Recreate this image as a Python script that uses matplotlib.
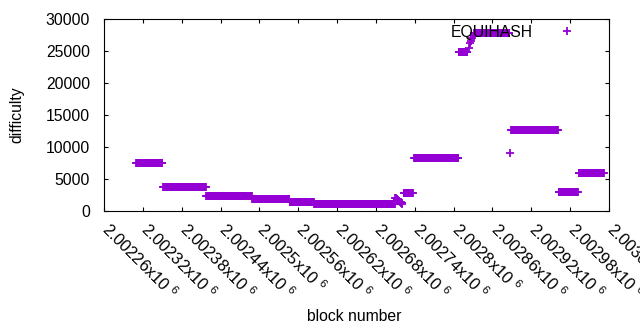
import numpy as np
import matplotlib
matplotlib.use("Agg")
import matplotlib.pyplot as plt
from matplotlib.transforms import ScaledTranslation

plt.rcParams['font.family'] = ['Liberation Sans', 'DejaVu Sans']
plt.rcParams['mathtext.default'] = 'regular'

# flat stretches of difficulty: first block, last block, level
seg_start = [2002310, 2002351, 2002418, 2002489, 2002547, 2002585, 2002661,
             2002723, 2002739, 2002808, 2002832, 2002889, 2002962, 2002993]
seg_end = [2002350, 2002417, 2002488, 2002546, 2002584, 2002660, 2002709,
           2002737, 2002807, 2002821, 2002886, 2002961, 2002992, 2003032]
seg_level = [7450, 3700, 2420, 1800, 1450, 1170, 1020,
             2740, 8230, 24800, 27750, 12730, 2920, 5890]

# single blocks between the flat stretches
pt_block = [2002710, 2002711, 2002712, 2002713, 2002714, 2002715, 2002716,
            2002717, 2002718, 2002719, 2002720, 2002721,
            2002823, 2002825, 2002827, 2002829, 2002831,
            2002887]
pt_value = [2100, 2000, 1900, 1820, 1730, 1640, 1550,
            1460, 1380, 1290, 1200, 1120,
            25400, 26200, 26600, 27000, 27350,
            9000]

xticks = np.arange(2002260, 2003041, 60)
xlabels = ['%gx10 $^{6}$' % (t / 1e6) for t in xticks]

blocks = [np.arange(s, e + 1) for s, e in zip(seg_start, seg_end)]
values = [np.full(len(b), v) for b, v in zip(blocks, seg_level)]
x = np.concatenate(blocks + [np.array(pt_block)])
y = np.concatenate(values + [np.array(pt_value)])
order = np.argsort(x, kind='stable')

fig = plt.figure(figsize=(6.4, 3.3), dpi=100)
ax = fig.add_axes([104 / 640, 1 - 211 / 330, 505 / 640, 192 / 330])

ax.plot(x[order], y[order], linestyle='none', marker='+', color='#9400d3',
        markersize=6, markeredgewidth=1.3, label='EQUIHASH')

ax.set_xlim(2002260, 2003040)
ax.set_ylim(0, 30000)
ax.set_yticks(np.arange(0, 30001, 5000))
ax.set_xticks(xticks)
ax.set_xticklabels(xlabels)

fs = 11.3
ax.tick_params(direction='in', top=True, right=True, length=3, width=0.8,
               labelsize=fs)
ax.tick_params(axis='y', pad=10)
ax.tick_params(axis='x', pad=0, labelsize=11.8)
# rotated labels hang from the tick, like gnuplot's "rotate by -45"
shift = ScaledTranslation(-0.035, -0.20, fig.dpi_scale_trans)
for lab in ax.get_xticklabels():
    lab.set_rotation(-45)
    lab.set_ha('left')
    lab.set_va('baseline')
    lab.set_rotation_mode('anchor')
    lab.set_transform(lab.get_transform() + shift)
for sp in ax.spines.values():
    sp.set_linewidth(0.8)

ax.set_xlabel('block number', fontsize=fs)
ax.set_ylabel('difficulty', fontsize=fs)
ax.xaxis.set_label_coords(0.495, -0.547)
ax.xaxis.label.set_va('center')
ax.yaxis.set_label_coords(-0.172, 0.5)
ax.yaxis.label.set_va('center')

ax.legend(loc='center right', bbox_to_anchor=(0.948, 0.932), frameon=False,
          markerfirst=False, numpoints=1, handlelength=2, handletextpad=1.17,
          borderpad=0, borderaxespad=0, fontsize=fs)

fig.savefig('out.png', dpi=100)
